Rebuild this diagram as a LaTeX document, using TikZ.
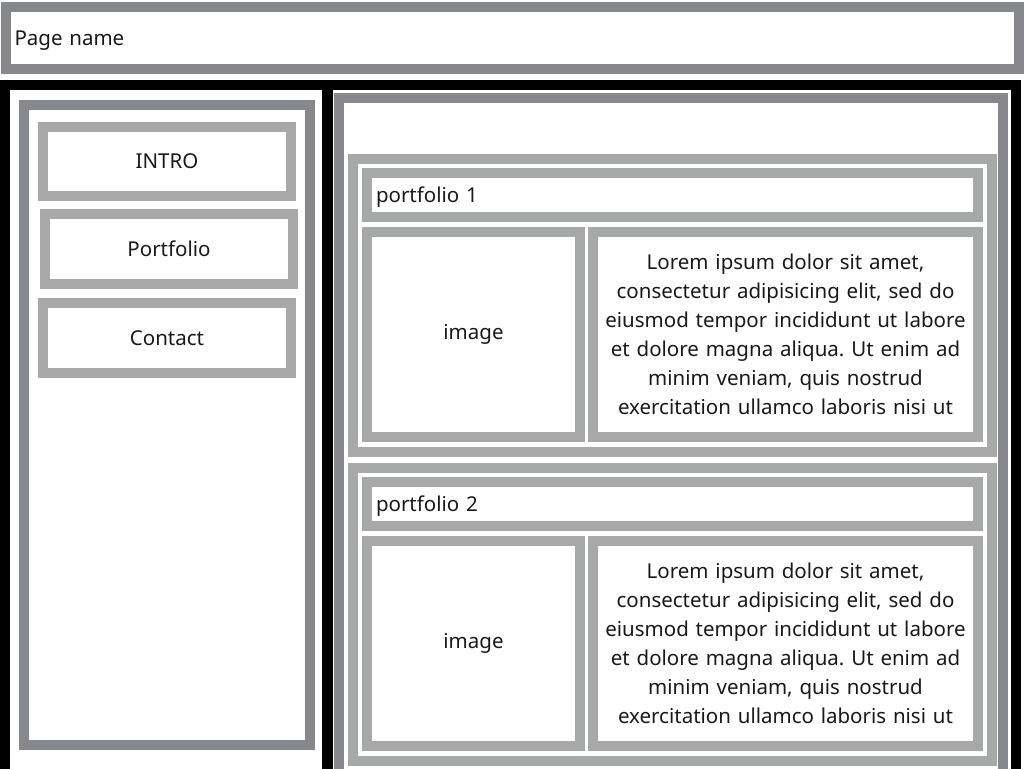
\documentclass[tikz,border=0pt]{standalone}
\usepackage{fontspec}
\setmainfont{Noto Sans}
\frenchspacing
\definecolor{dkgray}{RGB}{134,136,140}
\definecolor{ltgray}{RGB}{166,169,167}

\begin{document}
\begin{tikzpicture}[x=1pt,y=-1pt,line width=10pt,inner xsep=9pt,
    darkbox/.style={draw=dkgray,rectangle},
    litebox/.style={draw=ltgray,rectangle},
    txt/.style={font=\fontsize{20.5}{29}\selectfont,text=black!90}]
    \useasboundingbox (0,0) rectangle (1024,768);
    \clip (0,0) rectangle (1024,768);

    % header
    \node[darkbox,txt,minimum height=62,text width=995,text depth=0pt,align=left] at (512,38) (page) {Page name};

    % black frame and divider
    \draw[black] (5,85) rectangle (1016,830);
    \draw[black,line width=11pt] (327.5,85) -- (327.5,830);

    % left menu
    \node[darkbox,minimum width=286,minimum height=640] at (167,425) (side) {};
    \node[litebox,txt,minimum width=248,minimum height=69] at (167,161.5) (intro) {INTRO};
    \node[litebox,txt,minimum width=248,minimum height=70] at (169,249) (port) {Portfolio};
    \node[litebox,txt,minimum width=248,minimum height=70] at (167,338) (contact) {Contact};

    % content
    \draw[dkgray] (339,98) rectangle (1003,830);
    \foreach \i/\y in {1/154, 2/463} {
        \node[litebox,minimum width=639,minimum height=293] at (672.5,\y+151.5) (pf\i) {};
        \node[litebox,txt,minimum height=44,text width=593,text depth=0pt,align=left] at (672.5,\y+41) (title\i) {portfolio \i};
        \node[litebox,txt,minimum width=213,minimum height=205] at (473.5,\y+180.5) (img\i) {image};
        \node[litebox,txt,minimum width=385,minimum height=205,text width=367,align=center] at (785.5,\y+180.5) (desc\i)
            {Lorem ipsum dolor sit amet,\\ consectetur adipisicing elit, sed do\\ eiusmod tempor incididunt ut labore\\ et dolore magna aliqua. Ut enim ad\\ minim veniam, quis nostrud\\ exercitation ullamco laboris nisi ut};
    }
\end{tikzpicture}
\end{document}
